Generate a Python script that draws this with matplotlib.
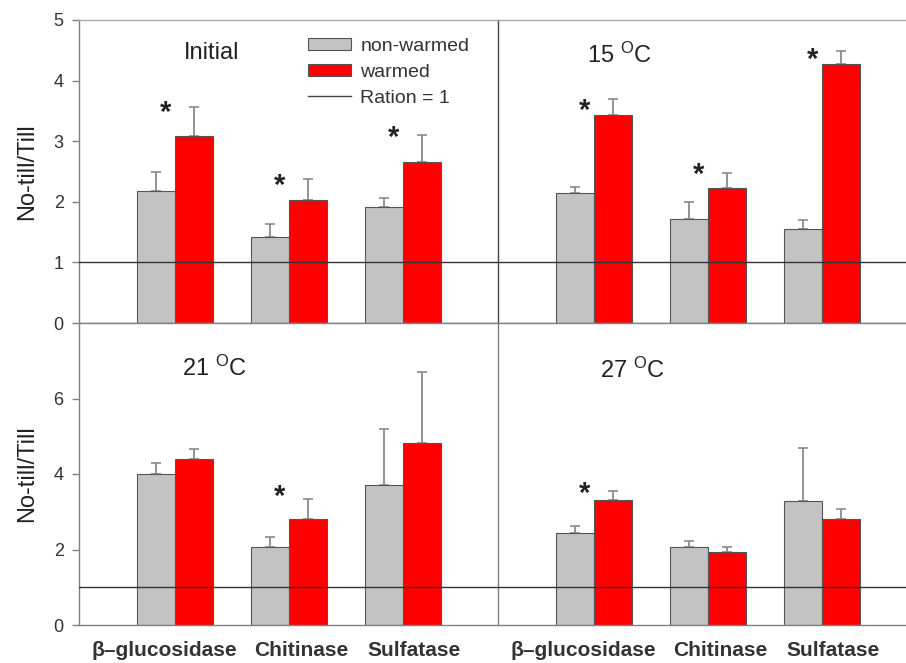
import numpy as np
import matplotlib
matplotlib.use("Agg")
import matplotlib.pyplot as plt
from matplotlib.patches import Patch
from matplotlib.lines import Line2D

plt.rcParams["font.family"] = ["Liberation Sans", "DejaVu Sans"]
plt.rcParams["mathtext.default"] = "regular"

# Data
enzymes = ["\u03b2\u2013glucosidase", "Chitinase", "Sulfatase"]
panels = ["Initial", "15 $^{O}$C", "21 $^{O}$C", "27 $^{O}$C"]

non_warmed = [
    [2.17, 1.42, 1.91],   # Initial
    [2.14, 1.72, 1.55],   # 15 C
    [4.00, 2.07, 3.71],   # 21 C
    [2.45, 2.06, 3.28],   # 27 C
]
non_warmed_err = [
    [0.33, 0.21, 0.15],
    [0.10, 0.28, 0.15],
    [0.30, 0.27, 1.48],
    [0.17, 0.16, 1.42],
]
warmed = [
    [3.09, 2.03, 2.66],
    [3.44, 2.22, 4.27],
    [4.40, 2.80, 4.81],
    [3.31, 1.94, 2.82],
]
warmed_err = [
    [0.47, 0.34, 0.44],
    [0.26, 0.25, 0.22],
    [0.27, 0.53, 1.89],
    [0.23, 0.13, 0.25],
]
# height of the significance star, None where there is none
stars = [
    [3.55, 2.36, 3.14],
    [3.59, 2.54, 4.43],
    [None, 3.53, None],
    [3.62, None, None],
]
ylims = [5, 5, 8, 8]
yticks = [[0, 1, 2, 3, 4, 5], [], [0, 2, 4, 6], []]

# Layout (pixels in a 906 x 663 figure)
W, H = 906, 663
fig = plt.figure(figsize=(W / 100, H / 100), dpi=100)

ax_w = 419
lefts = [79, 498, 79, 498]
tops = [20, 20, 323, 323]
bottoms = [323, 323, 625, 625]

gray = "#c3c3c3"
red = "#ff0000"
edge = "#555555"
spine_c = "#808080"

x = np.arange(1, 4)
w = 0.33
px_per_unit = 114.0
x0 = 1 - 96 / px_per_unit
label_shift = [-0.09, 0.11, 0.10]   # x labels sit a little off the group centres

axes = []
for i in range(4):
    ax = fig.add_axes([lefts[i] / W, 1 - bottoms[i] / H, ax_w / W, (bottoms[i] - tops[i]) / H])
    axes.append(ax)
    ax.set_xlim(x0, x0 + ax_w / px_per_unit)
    ax.set_ylim(0, ylims[i])

    ax.axhline(1, color="#333333", lw=1.0, zorder=3)

    ax.bar(x - w / 2, non_warmed[i], w, color=gray, edgecolor=edge, linewidth=0.8, zorder=2)
    ax.bar(x + w / 2, warmed[i], w, color=red, edgecolor=edge, linewidth=0.8, zorder=2)
    ax.errorbar(x - w / 2, non_warmed[i], yerr=[np.zeros(3), non_warmed_err[i]], fmt="none",
                ecolor="#8a8a8a", elinewidth=1.3, capsize=3.5, capthick=1.2, zorder=1)
    ax.errorbar(x + w / 2, warmed[i], yerr=[np.zeros(3), warmed_err[i]], fmt="none",
                ecolor="#8a8a8a", elinewidth=1.3, capsize=3.5, capthick=1.2, zorder=1)

    for j, s in enumerate(stars[i]):
        if s is not None:
            ax.annotate("*", (x[j] - 0.08, s), xytext=(0, -4), textcoords="offset points",
                        ha="center", va="center", fontsize=21, fontweight="bold",
                        color="#222222")

    for side in ["left", "bottom", "top", "right"]:
        ax.spines[side].set_color(spine_c)
        ax.spines[side].set_linewidth(1.0)
    ax.spines["right"].set_visible(False)
    if i == 0 or i == 1:
        ax.spines["top"].set_color("#aaaaaa")

    ax.set_yticks(yticks[i])
    if i in (0, 2):
        ax.tick_params(axis="y", direction="out", length=5, width=1, color=spine_c,
                       labelsize=13, labelcolor="#333333", pad=6)
        ax.set_ylabel("No-till/Till", fontsize=17, color="#222222", labelpad=11)
    else:
        ax.tick_params(axis="y", length=0)
        ax.spines["left"].set_color("#444444" if i == 1 else spine_c)

    ax.set_xticks([])
    if i >= 2:
        for j, name in enumerate(enzymes):
            ax.text(x[j] + label_shift[j], -26 / 302 * ylims[i], name, ha="center", va="center",
                    fontsize=15, fontweight="bold", color="#333333", clip_on=False)

title_pos = [(0.317, 0.89), (0.29, 0.885), (0.322, 0.85), (0.32, 0.845)]
for ax, t, (tx, ty) in zip(axes, panels, title_pos):
    ax.text(tx, ty, t, transform=ax.transAxes, ha="center", va="center", fontsize=17,
            color="#222222")

handles = [
    Patch(facecolor=gray, edgecolor=edge, linewidth=0.8),
    Patch(facecolor=red, edgecolor=edge, linewidth=0.8),
    Line2D([], [], color="#444444", lw=1.0),
]
axes[0].legend(handles, ["non-warmed", "warmed", "Ration = 1"], loc="upper left",
               bbox_to_anchor=((308 - 79) / ax_w, (323 - 38) / 303), frameon=False,
               fontsize=14, handlelength=2.2, handleheight=0.6, handletextpad=0.5,
               labelspacing=0.45, borderpad=0, borderaxespad=0, labelcolor="#333333")

fig.savefig("out.png", dpi=100)
